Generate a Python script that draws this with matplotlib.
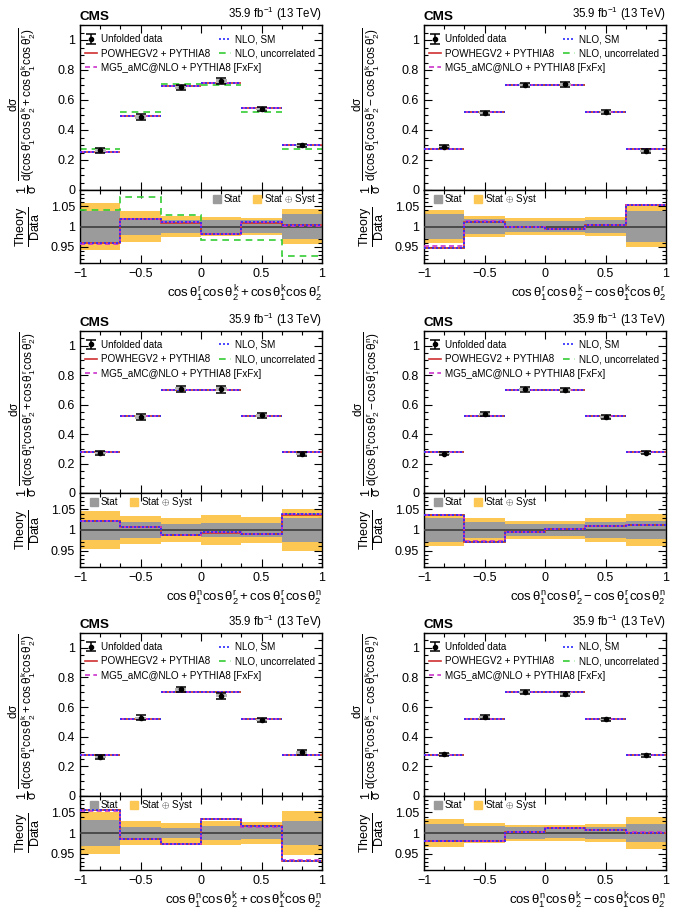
import numpy as np
import matplotlib
matplotlib.use('Agg')
import matplotlib.pyplot as plt
from matplotlib.ticker import MultipleLocator, FuncFormatter
from matplotlib.lines import Line2D
from matplotlib.patches import Patch

plt.rcParams['font.family'] = ['Liberation Sans', 'DejaVu Sans']
plt.rcParams['mathtext.fontset'] = 'custom'
plt.rcParams['mathtext.rm'] = 'Liberation Sans'
plt.rcParams['mathtext.it'] = 'Liberation Sans'
plt.rcParams['mathtext.bf'] = 'Liberation Sans:bold'
plt.rcParams['mathtext.sf'] = 'Liberation Sans'

# ---------------- data ----------------
bin_edges = [-1.0, -2/3, -1/3, 0.0, 1/3, 2/3, 1.0]
bin_centers = [-5/6, -1/2, -1/6, 1/6, 1/2, 5/6]

# panel 1: rk + kr
data_rkp = [0.265, 0.487, 0.685, 0.726, 0.540, 0.297]
stat_rkp = [0.037, 0.022, 0.016, 0.015, 0.016, 0.032]
tot_rkp = [0.057, 0.037, 0.026, 0.024, 0.022, 0.042]
sm_rkp = [0.2544, 0.4958, 0.6919, 0.7129, 0.5454, 0.2979]
powheg_rkp = [0.2540, 0.4960, 0.6917, 0.7131, 0.5452, 0.2980]
mg5_rkp = [0.2536, 0.4956, 0.6921, 0.7127, 0.5456, 0.2977]
uncor_rkp = [0.2761, 0.5230, 0.7042, 0.7013, 0.5216, 0.2753]

# panel 2: rk - kr
data_rkm = [0.289, 0.516, 0.701, 0.705, 0.519, 0.262]
stat_rkm = [0.032, 0.018, 0.013, 0.013, 0.017, 0.037]
tot_rkm = [0.041, 0.027, 0.022, 0.022, 0.023, 0.050]
sm_rkm = [0.2737, 0.5222, 0.6996, 0.7001, 0.5206, 0.2759]
powheg_rkm = [0.2740, 0.5220, 0.6997, 0.7000, 0.5207, 0.2758]
mg5_rkm = [0.2754, 0.5224, 0.6995, 0.7002, 0.5205, 0.2760]
uncor_rkm = [0.2737, 0.5222, 0.6996, 0.7001, 0.5206, 0.2759]

# panel 3: nr + rn
data_nrp = [0.270, 0.516, 0.708, 0.704, 0.527, 0.266]
stat_nrp = [0.024, 0.020, 0.015, 0.018, 0.018, 0.030]
tot_nrp = [0.046, 0.033, 0.028, 0.036, 0.031, 0.050]
sm_nrp = [0.2759, 0.5201, 0.6995, 0.6998, 0.5217, 0.2761]
powheg_nrp = [0.2760, 0.5200, 0.6996, 0.6997, 0.5218, 0.2760]
mg5_nrp = [0.2758, 0.5202, 0.6994, 0.6999, 0.5216, 0.2762]
uncor_nrp = [0.2759, 0.5201, 0.6995, 0.6998, 0.5217, 0.2761]

# panel 4: nr - rn
data_nrm = [0.268, 0.535, 0.703, 0.700, 0.516, 0.273]
stat_nrm = [0.030, 0.019, 0.014, 0.014, 0.020, 0.022]
tot_nrm = [0.040, 0.029, 0.022, 0.022, 0.030, 0.038]
sm_nrm = [0.2776, 0.5200, 0.7002, 0.7014, 0.5212, 0.2763]
powheg_nrm = [0.2777, 0.5199, 0.7003, 0.7013, 0.5213, 0.2762]
mg5_nrm = [0.2775, 0.5201, 0.7001, 0.7015, 0.5211, 0.2764]
uncor_nrm = [0.2776, 0.5200, 0.7002, 0.7014, 0.5212, 0.2763]

# panel 5: nk + kn
data_nkp = [0.262, 0.528, 0.720, 0.678, 0.513, 0.295]
stat_nkp = [0.031, 0.015, 0.012, 0.018, 0.015, 0.028]
tot_nkp = [0.050, 0.030, 0.024, 0.030, 0.027, 0.053]
sm_nkp = [0.2764, 0.5201, 0.7006, 0.7011, 0.5212, 0.2752]
powheg_nkp = [0.2765, 0.5200, 0.7007, 0.7010, 0.5213, 0.2751]
mg5_nkp = [0.2763, 0.5202, 0.7005, 0.7012, 0.5211, 0.2753]
uncor_nkp = [0.2764, 0.5201, 0.7006, 0.7011, 0.5212, 0.2752]

# panel 6: nk - kn
data_nkm = [0.282, 0.531, 0.700, 0.691, 0.517, 0.275]
stat_nkm = [0.023, 0.017, 0.014, 0.013, 0.015, 0.022]
tot_nkm = [0.035, 0.024, 0.020, 0.020, 0.022, 0.038]
sm_nkm = [0.2766, 0.5209, 0.7021, 0.7000, 0.5206, 0.2753]
powheg_nkm = [0.2767, 0.5208, 0.7022, 0.6999, 0.5207, 0.2752]
mg5_nkm = [0.2765, 0.5210, 0.7020, 0.7001, 0.5205, 0.2754]
uncor_nkm = [0.2766, 0.5209, 0.7021, 0.7000, 0.5206, 0.2753]

obs_rkp = r'\cos\theta_1^r\cos\theta_2^k + \cos\theta_1^k\cos\theta_2^r'
obs_rkm = r'\cos\theta_1^r\cos\theta_2^k - \cos\theta_1^k\cos\theta_2^r'
obs_nrp = r'\cos\theta_1^n\cos\theta_2^r + \cos\theta_1^r\cos\theta_2^n'
obs_nrm = r'\cos\theta_1^n\cos\theta_2^r - \cos\theta_1^r\cos\theta_2^n'
obs_nkp = r'\cos\theta_1^n\cos\theta_2^k + \cos\theta_1^k\cos\theta_2^n'
obs_nkm = r'\cos\theta_1^n\cos\theta_2^k - \cos\theta_1^k\cos\theta_2^n'

panels = [
    (data_rkp, stat_rkp, tot_rkp, sm_rkp, powheg_rkp, mg5_rkp, uncor_rkp, obs_rkp, 'right'),
    (data_rkm, stat_rkm, tot_rkm, sm_rkm, powheg_rkm, mg5_rkm, uncor_rkm, obs_rkm, 'left'),
    (data_nrp, stat_nrp, tot_nrp, sm_nrp, powheg_nrp, mg5_nrp, uncor_nrp, obs_nrp, 'left'),
    (data_nrm, stat_nrm, tot_nrm, sm_nrm, powheg_nrm, mg5_nrm, uncor_nrm, obs_nrm, 'left'),
    (data_nkp, stat_nkp, tot_nkp, sm_nkp, powheg_nkp, mg5_nkp, uncor_nkp, obs_nkp, 'left'),
    (data_nkm, stat_nkm, tot_nkm, sm_nkm, powheg_nkm, mg5_nkm, uncor_nkm, obs_nkm, 'left'),
]

# ---------------- style ----------------
C_RED = '#d03030'
C_BLUE = '#2a2aff'
C_GREEN = '#33cc33'
C_MAG = '#cc33cc'
C_GRAY = '#9b9b9b'
C_ORANGE = '#fcc752'

LS_SM = (0, (1.2, 1.2))
LS_UNC = (0, (4, 3))
LS_MG5 = (0, (3, 2))

W, H = 677, 917
fig = plt.figure(figsize=(W / 100, H / 100), dpi=100)

col_x = [80, 424]
col_w = 242
rows = [(25, 190, 263), (331, 493, 567), (633, 796, 870)]


def rect(x, top, bottom):
    return [x / W, 1 - bottom / H, col_w / W, (bottom - top) / H]


def fmt(v, p):
    s = f'{v:g}'
    if s == '-0':
        s = '0'
    return s.replace('-', '\u2212')


edges = np.array(bin_edges)
centers = np.array(bin_centers)

for i, (data, stat, tot, sm, pw, mg, unc, obs, rleg) in enumerate(panels):
    r, c = divmod(i, 2)
    top, mid, bot = rows[r]
    ax = fig.add_axes(rect(col_x[c], top, mid))
    rx = fig.add_axes(rect(col_x[c], mid, bot), sharex=ax)

    data = np.array(data); stat = np.array(stat); tot = np.array(tot)
    sm = np.array(sm); pw = np.array(pw); mg = np.array(mg); unc = np.array(unc)

    # --- main panel ---
    ax.hlines(unc, edges[:-1], edges[1:], color=C_GREEN, linestyles=[LS_UNC], lw=1.2, zorder=2)
    ax.hlines(pw, edges[:-1], edges[1:], color=C_RED, lw=1.2, zorder=3)
    ax.hlines(mg, edges[:-1], edges[1:], color=C_MAG, linestyles=[LS_MG5], lw=1.2, zorder=4)
    ax.hlines(sm, edges[:-1], edges[1:], color=C_BLUE, linestyles=[LS_SM], lw=1.2, zorder=5)
    ax.bar(centers, 2 * stat * data, bottom=data - stat * data, width=0.09,
           color='#b5b5b5', zorder=6)
    h_data = ax.errorbar(centers, data, yerr=tot * data, fmt='o', color='k', ms=3,
                         capsize=3.5, elinewidth=1.1, capthick=1.1, zorder=7)

    ax.set_xlim(-1, 1)
    ax.set_ylim(0, 1.1)
    ax.yaxis.set_major_locator(MultipleLocator(0.2))
    ax.yaxis.set_minor_locator(MultipleLocator(0.05))
    ax.yaxis.set_major_formatter(FuncFormatter(fmt))

    h_pw = Line2D([], [], color=C_RED, lw=1.2)
    h_mg = Line2D([], [], color=C_MAG, lw=1.2, ls=LS_MG5)
    h_sm = Line2D([], [], color=C_BLUE, lw=1.2, ls=LS_SM)
    h_un = Line2D([], [], color=C_GREEN, lw=1.2, ls=LS_UNC)
    kw = dict(frameon=False, fontsize=7.1, handlelength=1.2, handletextpad=0.4,
              labelspacing=0.45, borderaxespad=0, borderpad=0, loc='upper left')
    leg1 = ax.legend([h_data, h_pw, h_mg],
                     ['Unfolded data', 'POWHEGV2 + PYTHIA8', 'MG5_aMC@NLO + PYTHIA8 [FxFx]'],
                     bbox_to_anchor=(0.02, 0.945), **kw)
    ax.add_artist(leg1)
    ax.legend([h_sm, h_un], ['NLO, SM', 'NLO, uncorrelated'],
              bbox_to_anchor=(0.575, 0.945), **kw)

    ax.text(0, 1.012, 'CMS', transform=ax.transAxes, fontsize=9.7, fontweight='bold',
            ha='left', va='bottom')
    ax.text(1, 1.012, r'35.9 fb$^{-1}$ (13 TeV)', transform=ax.transAxes, fontsize=8.3,
            ha='right', va='bottom')

    ax.set_ylabel(r'$\dfrac{d\sigma}{d(' + obs + r')}$', fontsize=8.5)
    ax.yaxis.set_label_coords(-0.175, 0.52)
    ax.text(-0.22, 0.006, r'$\dfrac{1}{\sigma}$', transform=ax.transAxes, rotation=90,
            fontsize=9, ha='center', va='center')

    # --- ratio panel ---
    rx.stairs(1 + tot, edges, baseline=1 - tot, fill=True, color=C_ORANGE, lw=0, zorder=1)
    rx.stairs(1 + stat, edges, baseline=1 - stat, fill=True, color=C_GRAY, lw=0, zorder=2)
    rx.axhline(1, color='#444444', lw=1.3, zorder=3)
    rx.stairs(unc / data, edges, baseline=None, color=C_GREEN, ls=LS_UNC, lw=1.2, zorder=4)
    rx.stairs(pw / data, edges, baseline=None, color=C_RED, lw=1.2, zorder=5)
    rx.stairs(mg / data, edges, baseline=None, color=C_MAG, ls=LS_MG5, lw=1.2, zorder=6)
    rx.stairs(sm / data, edges, baseline=None, color=C_BLUE, ls=LS_SM, lw=1.2, zorder=7)

    rx.set_ylim(0.91, 1.09)
    rx.yaxis.set_major_locator(MultipleLocator(0.05))
    rx.yaxis.set_minor_locator(MultipleLocator(0.01))
    rx.yaxis.set_major_formatter(FuncFormatter(fmt))
    rx.xaxis.set_major_locator(MultipleLocator(0.5))
    rx.xaxis.set_minor_locator(MultipleLocator(1 / 6))
    rx.xaxis.set_major_formatter(FuncFormatter(fmt))

    rkw = dict(frameon=False, fontsize=7.1, handlelength=0.8, handleheight=0.8,
               handletextpad=0.3, columnspacing=1.2, borderaxespad=0, borderpad=0, ncol=2)
    rh = [Patch(color=C_GRAY), Patch(color=C_ORANGE)]
    rl = ['Stat', r'Stat $\oplus$ Syst']
    if rleg == 'right':
        rx.legend(rh, rl, loc='upper right', bbox_to_anchor=(0.975, 0.97), **rkw)
    else:
        rx.legend(rh, rl, loc='upper left', bbox_to_anchor=(0.04, 0.97), **rkw)

    rx.set_ylabel(r'$\dfrac{\mathrm{Theory}}{\mathrm{Data}}$', fontsize=9)
    rx.yaxis.set_label_coords(-0.155, 0.5)
    rx.set_xlabel(r'$' + obs + r'$', fontsize=9.5, loc='right', labelpad=3)

    for a in (ax, rx):
        a.tick_params(which='both', direction='in', top=True, right=True, labelsize=9)
        a.tick_params(which='major', length=6, width=0.8)
        a.tick_params(which='minor', length=3, width=0.8)
        for s in a.spines.values():
            s.set_linewidth(1.0)
    ax.tick_params(labelbottom=False)

fig.savefig('out.png', dpi=100)
